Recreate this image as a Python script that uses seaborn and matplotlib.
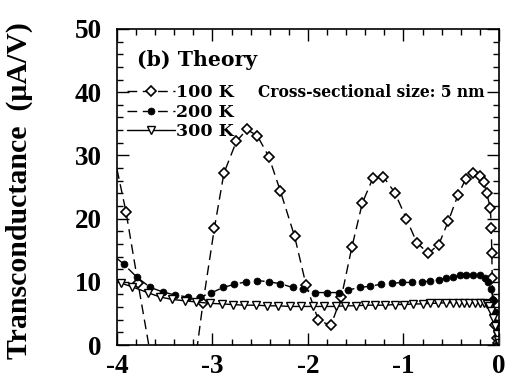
import numpy as np
import pandas as pd
import matplotlib
matplotlib.use("Agg")
import matplotlib.pyplot as plt
import seaborn as sns

# ---- data (gate voltage in V, transconductance in uA/V) ----
v_100K = [-4.00, -3.906, -3.78, -3.65, -3.54, -3.43, -3.32, -3.21, -3.10, -2.98,
          -2.88, -2.75, -2.64, -2.53, -2.41, -2.29, -2.14, -2.02, -1.89, -1.76,
          -1.65, -1.54, -1.43, -1.32, -1.21, -1.09, -0.97, -0.86, -0.74, -0.63,
          -0.53, -0.43, -0.35, -0.27, -0.20, -0.16, -0.13, -0.09, -0.08, -0.075,
          -0.07, -0.065, -0.04, -0.025, -0.01, 0.0]
g_100K = [27.8, 21.1, 9.8, -1.5, -12.0, -18.0, -16.0, -6.0, 6.6, 18.5,
          27.2, 32.2, 34.1, 33.1, 29.8, 24.4, 17.2, 9.5, 3.9, 3.1,
          7.6, 15.5, 22.5, 26.4, 26.6, 24.1, 20.0, 16.2, 14.5, 15.9,
          19.6, 23.7, 26.2, 27.2, 26.7, 25.8, 24.1, 21.7, 18.5, 14.6,
          10.6, 6.9, 3.2, 1.1, 0.3, 0.0]

v_200K = [-4.00, -3.93, -3.79, -3.65, -3.52, -3.39, -3.26, -3.13, -3.02, -2.89,
          -2.77, -2.65, -2.53, -2.41, -2.29, -2.16, -2.05, -1.93, -1.80, -1.68,
          -1.58, -1.46, -1.35, -1.24, -1.12, -1.02, -0.91, -0.81, -0.72, -0.63,
          -0.55, -0.48, -0.41, -0.34, -0.27, -0.20, -0.15, -0.11, -0.08, -0.06,
          -0.045, -0.03, -0.02, -0.01, 0.0]
g_200K = [13.7, 12.8, 10.7, 9.1, 8.4, 7.9, 7.6, 7.6, 8.2, 9.1,
          9.6, 10.0, 10.2, 10.0, 9.7, 9.1, 8.8, 8.3, 8.3, 8.3,
          8.7, 9.1, 9.3, 9.6, 9.75, 9.9, 9.9, 10.0, 10.1, 10.3,
          10.6, 10.8, 11.0, 11.1, 11.1, 11.0, 10.6, 9.9, 8.8, 7.1,
          5.2, 3.5, 2.2, 1.2, 0.5]

v_300K = [-4.00, -3.96, -3.84, -3.68, -3.55, -3.42, -3.29, -3.17, -3.03, -2.90,
          -2.79, -2.67, -2.54, -2.43, -2.31, -2.19, -2.07, -1.95, -1.83, -1.71,
          -1.61, -1.50, -1.40, -1.30, -1.19, -1.09, -0.99, -0.90, -0.80, -0.72,
          -0.64, -0.55, -0.48, -0.42, -0.37, -0.31, -0.25, -0.20, -0.16, -0.13,
          -0.10, -0.08, -0.06, -0.04, -0.025, -0.01, 0.0]
g_300K = [10.1, 9.8, 9.2, 8.3, 7.6, 7.2, 7.0, 6.8, 6.6, 6.5,
          6.4, 6.3, 6.3, 6.2, 6.2, 6.1, 6.1, 6.1, 6.1, 6.1,
          6.2, 6.2, 6.3, 6.3, 6.3, 6.4, 6.4, 6.5, 6.5, 6.6,
          6.6, 6.7, 6.7, 6.7, 6.7, 6.7, 6.7, 6.7, 6.6, 6.5,
          6.1, 5.4, 4.3, 3.0, 1.8, 0.8, 0.3]

Series_Labels = ["100 K", "200 K", "300 K"]
X_Ticks = [-4, -3, -2, -1, 0]
Y_Ticks = [0, 10, 20, 30, 40, 50]

# ---- style ----
sns.set_style("ticks")
plt.rcParams['font.family'] = ['Liberation Serif', 'DejaVu Serif']
plt.rcParams['font.weight'] = 'bold'
plt.rcParams['axes.unicode_minus'] = False
plt.rcParams['legend.numpoints'] = 1
for key in ['text.color', 'axes.labelcolor', 'xtick.color', 'ytick.color', 'axes.edgecolor']:
    plt.rcParams[key] = 'black'

fig = plt.figure(figsize=(5.12, 3.80), dpi=100)
ax = fig.add_axes([0.2285, 0.0921, 0.746, 0.8316])

# 100 K: open diamonds, dashed
sns.lineplot(x=v_100K, y=g_100K, ax=ax, sort=False, estimator=None, color='black',
             linestyle=(0, (7, 4)), linewidth=1.0, marker='D', markersize=5,
             markerfacecolor='white', markeredgecolor='black', markeredgewidth=1.2,
             markevery=list(range(1, len(v_100K))), label=Series_Labels[0])
# 200 K: filled circles, dashed
sns.lineplot(x=v_200K, y=g_200K, ax=ax, sort=False, estimator=None, color='black',
             linestyle=(0, (7, 4)), linewidth=1.0, marker='o', markersize=5,
             markerfacecolor='black', markeredgecolor='black', markeredgewidth=0.5,
             markevery=list(range(1, len(v_200K))), label=Series_Labels[1])
# 300 K: open down-triangles, solid
sns.lineplot(x=v_300K, y=g_300K, ax=ax, sort=False, estimator=None, color='black',
             linestyle='-', linewidth=1.0, marker='v', markersize=6,
             markerfacecolor='white', markeredgecolor='black', markeredgewidth=1.0,
             markevery=list(range(1, len(v_300K))), label=Series_Labels[2])

ax.set_xlim(-4, 0)
ax.set_ylim(0, 50)
ax.set_xticks(X_Ticks)
ax.set_xticklabels([str(t) for t in X_Ticks])
ax.set_yticks(Y_Ticks)
ax.set_xticks(np.arange(-4, 0.01, 0.2), minor=True)
ax.set_yticks(np.arange(0, 50.1, 2), minor=True)
ax.tick_params(which='both', direction='in', top=True, right=True, width=1.0,
               labelsize=19.5, color='black', labelcolor='black')
ax.tick_params(which='major', length=8.5)
ax.tick_params(which='minor', length=4.3)
ax.tick_params(axis='y', pad=11)
ax.tick_params(axis='x', pad=6.5)
for lab in ax.get_xticklabels() + ax.get_yticklabels():
    lab.set_fontweight('bold')
for sp in ax.spines.values():
    sp.set_linewidth(1.2)
    sp.set_color('black')

ax.set_xlabel("")
ax.set_ylabel("Transconductance  (\u03bcA/V)", fontsize=21.5, fontweight='bold', color='black')
ax.yaxis.set_label_coords(-0.22, 0.49)

ax.text(0.052, 0.902, "(b) Theory", transform=ax.transAxes, fontsize=14.7,
        fontweight='bold', family='DejaVu Serif', va='center', ha='left')
ax.text(0.369, 0.80, "Cross-sectional size: 5 nm", transform=ax.transAxes,
        fontsize=11.2, fontweight='bold', family='DejaVu Serif', va='center', ha='left')

handles, labels = ax.get_legend_handles_labels()
leg = ax.legend(handles, labels, loc='upper left', bbox_to_anchor=(0.026, 0.826),
                frameon=False, handlelength=2.75, handletextpad=0.1, labelspacing=0.15,
                borderpad=0, borderaxespad=0,
                prop={'family': 'DejaVu Serif', 'weight': 'bold', 'size': 12.5})

fig.savefig("out.png", dpi=100)
